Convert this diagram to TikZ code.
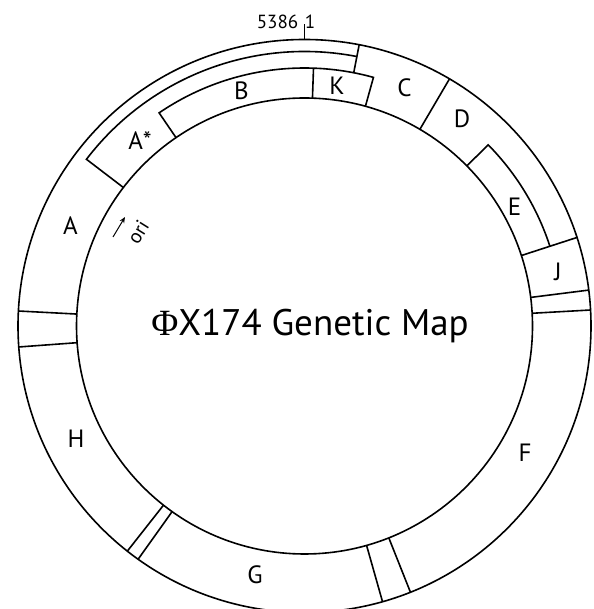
\documentclass[tikz,border=0pt]{standalone}
\usepackage{fontspec}
\setmainfont{PT Sans}
\newfontfamily\phifont{Liberation Serif}
\usetikzlibrary{arrows.meta}
\begin{document}
\begin{tikzpicture}[x=1pt,y=1pt,line width=1.6pt,
  genelabel/.style={font=\fontsize{25}{25}\selectfont,inner sep=0pt},
  poslabel/.style={font=\fontsize{19}{19}\selectfont,inner sep=0pt,anchor=base},
  titlelabel/.style={font=\fontsize{37}{37}\selectfont,inner sep=0pt,anchor=base}]
\useasboundingbox (0,0) rectangle (593,609);
\clip (0,0) rectangle (593,609);
\def\rOut{286.5}
\def\rIn{228}
\def\rMid{274.5}
\def\rBox{258}
\begin{scope}[shift={(304.5,283)}]
  \draw (0,0) circle[radius=\rOut];
  \draw (0,0) circle[radius=\rIn];
  % A* box
  \draw (142.6:\rIn) -- (142.6:\rMid) arc[start angle=142.6,end angle=79,radius=\rMid];
  \draw (79:\rBox) -- (79:\rOut);
  % B and K boxes
  \draw (124.3:\rIn) -- (124.3:\rBox) arc[start angle=124.3,end angle=74.5,radius=\rBox] -- (74.5:\rIn);
  \draw (88:\rIn) -- (88:\rBox);
  % C / D boundary
  \draw (59.6:\rIn) -- (59.6:\rOut);
  % E box
  \draw (44.6:\rIn) -- (44.6:\rBox) arc[start angle=44.6,end angle=18,radius=\rBox];
  % gene boundaries across the ring
  \foreach \a in {18,7.2,3.2,177,184.2,231.8,234.5,285.8,291.7}
    \draw (\a:\rIn) -- (\a:\rOut);
  % origin tick
  \draw (90:\rOut) -- (90:302);
\end{scope}
% labels
\node[poslabel] (p5386) at (277.5,580.7) {5386};
\node[poslabel] (p1) at (310,580.7) {1};
\node[genelabel] (lB) at (241.5,518) {B};
\node[genelabel] (lK) at (337,523.5) {K};
\node[genelabel] (lC) at (404.5,521) {C};
\node[genelabel,anchor=base] (lAs) at (140,459.7) {A*};
\node[genelabel] (lD) at (462,490.6) {D};
\node[genelabel] (lE) at (514.5,402.5) {E};
\node[genelabel] (lJ) at (558,337.5) {J};
\node[genelabel] (lA) at (70.5,383.5) {A};
\node[genelabel] (lH) at (76,170.7) {H};
\node[genelabel] (lF) at (525,156) {F};
\node[genelabel] (lG) at (255,34) {G};
\node[titlelabel] (title) at (310,273) {{\phifont Φ}X174 Genetic Map};
% ori
\coordinate (oriA) at (113,372);
\coordinate (oriB) at (125,392);
\draw[line width=1pt,-{Stealth[length=6pt,width=5pt]}] (oriA) -- (oriB);
\node[font=\fontsize{20}{20}\selectfont,inner sep=0pt,rotate=58] (ori) at (138,377) {ori};
\end{tikzpicture}
\end{document}
